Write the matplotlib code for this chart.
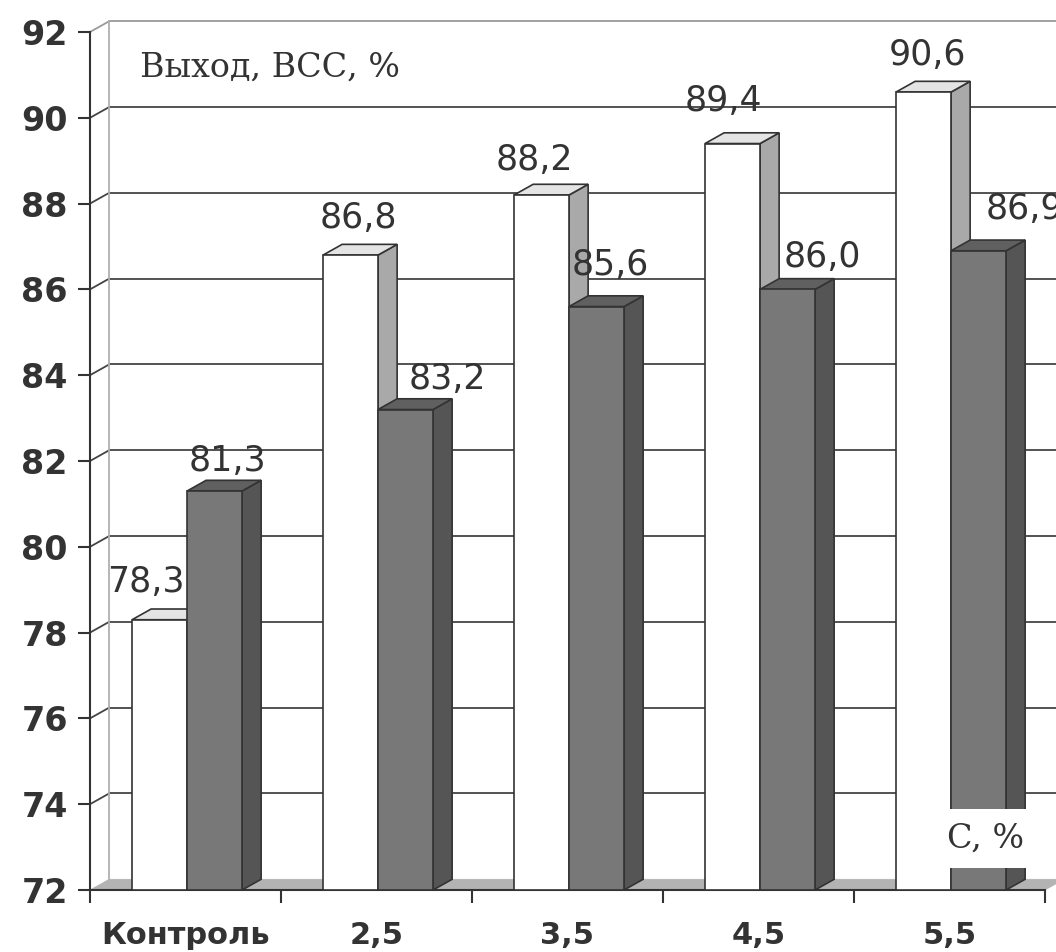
import matplotlib.pyplot as plt
from matplotlib.patches import Polygon

categories = ["Контроль", "2,5", "3,5", "4,5", "5,5"]
light_vals = [78.3, 86.8, 88.2, 89.4, 90.6]
dark_vals = [81.3, 83.2, 85.6, 86.0, 86.9]
y_ticks = list(range(72, 93, 2))

# small shifts of the value labels (x in categories, y in %)
light_nudge = [(-0.12, 0.89), (-0.01, 0.86), (-0.09, 0.82), (-0.10, 0.98), (-0.03, 0.86)]
dark_nudge = [(0.02, 0.70), (0.17, 0.72), (0.02, 0.96), (0.13, 0.75), (0.19, 0.98)]

Y0, Y1 = 72, 92
DX, DY = 0.1, 0.25      # depth of the 3-d box, data units
BAR_W = 0.288
BAR_X0 = 0.22
EDGE = "#333333"

fig = plt.figure(figsize=(10.56, 9.52), dpi=100)
ax = fig.add_axes([90 / 1056, 62 / 952, 955 / 1056, 858 / 952])
ax.set_xlim(0, 5)
ax.set_ylim(Y0, Y1)
ax.patch.set_visible(False)


def poly(pts, fc, z, ec=EDGE, lw=1.2):
    ax.add_patch(Polygon(pts, closed=True, facecolor=fc, edgecolor=ec,
                         linewidth=lw, zorder=z, clip_on=False, joinstyle="miter"))


def bar3d(x0, top, front, topc, side, z):
    x1 = x0 + BAR_W
    poly([(x1, Y0), (x1 + DX, Y0 + DY), (x1 + DX, top + DY), (x1, top)], side, z)
    poly([(x0, top), (x1, top), (x1 + DX, top + DY), (x0 + DX, top + DY)], topc, z)
    poly([(x0, Y0), (x1, Y0), (x1, top), (x0, top)], front, z)


# walls and floor
for v in y_ticks[1:]:
    c = "#9a9a9a" if v == Y1 else "#444444"
    ax.plot([DX, 5 + DX], [v + DY, v + DY], color=c, lw=1.3, zorder=1, clip_on=False)
    ax.plot([0, DX], [v, v + DY], color=c, lw=1.3, zorder=1, clip_on=False)
ax.plot([DX, DX], [Y0 + DY, Y1 + DY], color="#b0b0b0", lw=1.3, zorder=1, clip_on=False)
poly([(0, Y0), (5, Y0), (5 + DX, Y0 + DY), (DX, Y0 + DY)], "#b3b3b3", 1.5,
     ec="#b3b3b3", lw=0.5)

# columns
for i in range(len(categories)):
    xa = i + BAR_X0
    xb = xa + BAR_W
    bar3d(xa, light_vals[i], "#ffffff", "#e4e4e4", "#a9a9a9", 3 + 2 * i)
    bar3d(xb, dark_vals[i], "#787878", "#606060", "#555555", 4 + 2 * i)
    for x, v, (nx, ny) in ((xa, light_vals[i], light_nudge[i]),
                           (xb, dark_vals[i], dark_nudge[i])):
        ax.text(x + BAR_W / 2 + DX / 2 + nx, v + ny, f"{v:.1f}".replace(".", ","),
                ha="center", va="center", fontsize=25, color="#333333",
                zorder=20, clip_on=False)

ax.text(0.26, 91.16, "Выход, ВСС, %", family="DejaVu Serif", fontsize=24,
        ha="left", va="center", color="#333333", zorder=20)
ax.text(4.69, 73.2, "C, %", family="DejaVu Serif", fontsize=24, ha="center",
        va="center", color="#333333", zorder=30,
        bbox=dict(facecolor="white", edgecolor="none", boxstyle="square,pad=0.4"))

# axes
for s in ("top", "right"):
    ax.spines[s].set_visible(False)
for s in ("left", "bottom"):
    ax.spines[s].set_color(EDGE)
    ax.spines[s].set_linewidth(1.5)
    ax.spines[s].set_zorder(2)

ax.set_yticks(y_ticks)
ax.set_yticklabels([str(v) for v in y_ticks], fontsize=24, fontweight="bold",
                   color="#333333")
ax.tick_params(axis="y", direction="out", length=9, width=1.5, color=EDGE, pad=7)

ax.set_xticks(range(6))
ax.set_xticklabels([])
ax.set_xticks([i + 0.5 for i in range(5)], minor=True)
ax.set_xticklabels(categories, minor=True, fontsize=22, fontweight="bold",
                   color="#333333")
ax.tick_params(axis="x", which="major", direction="out", length=9, width=1.5, color=EDGE)
ax.tick_params(axis="x", which="minor", length=0, pad=22)

fig.savefig("out.png", dpi=100, facecolor="white")
